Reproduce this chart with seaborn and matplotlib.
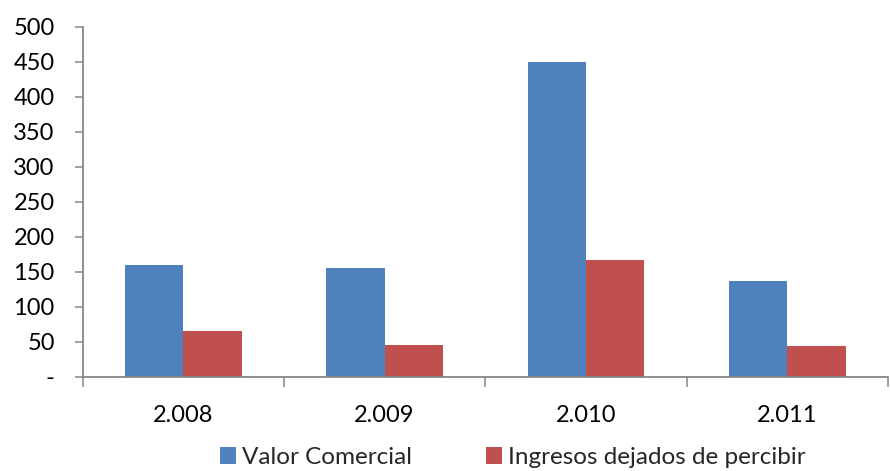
import matplotlib
matplotlib.use("Agg")
import matplotlib.pyplot as plt
from matplotlib.ticker import FixedLocator, FixedFormatter
import seaborn as sns
import pandas as pd

years = ["2.008", "2.009", "2.010", "2.011"]
valor_comercial = [160, 155, 450, 137]
ingresos_dejados = [65, 45, 167, 44]
series_names = ["Valor Comercial", "Ingresos dejados de percibir"]
y_ticks = [0, 50, 100, 150, 200, 250, 300, 350, 400, 450, 500]
y_labels = ["-"] + [str(v) for v in y_ticks[1:]]

df = pd.DataFrame({
    "year": years * 2,
    "value": valor_comercial + ingresos_dejados,
    "series": [series_names[0]] * len(years) + [series_names[1]] * len(years),
})

sns.set_theme(style="white")
plt.rcParams["font.family"] = ["Lato", "DejaVu Sans"]

fig = plt.figure(figsize=(8.9, 4.71), dpi=100)
ax = fig.add_axes([0.0927, 0.1996, 0.9051, 0.7431])

palette = {series_names[0]: "#4F81BD", series_names[1]: "#C0504D"}
sns.barplot(data=df, x="year", y="value", hue="series", order=years,
            hue_order=series_names, palette=palette, width=0.58, gap=0,
            saturation=1, edgecolor="none", linewidth=0, ax=ax, legend=False)

ax.set_xlim(-0.5, 3.5)
ax.set_ylim(0, 500)
ax.set_xlabel("")
ax.set_ylabel("")

axis_color = "#868686"
for side in ("top", "right"):
    ax.spines[side].set_visible(False)
for side in ("left", "bottom"):
    ax.spines[side].set_color(axis_color)
    ax.spines[side].set_linewidth(1.3)

ax.yaxis.set_major_locator(FixedLocator(y_ticks))
ax.yaxis.set_major_formatter(FixedFormatter(y_labels))
ax.tick_params(axis="y", which="major", direction="out", length=6, width=1.1,
               color=axis_color, labelsize=17, labelcolor="black", pad=14, left=True)

ax.set_xticks(range(len(years)))
ax.set_xticklabels(years)
ax.set_xticks([-0.5, 0.5, 1.5, 2.5, 3.5], minor=True)
ax.tick_params(axis="x", which="major", length=0, labelsize=17, labelcolor="black", pad=20)
ax.tick_params(axis="x", which="minor", direction="out", length=7, width=1.1,
               color=axis_color, bottom=True)

handles = [plt.Rectangle((0, 0), 1, 1, facecolor=palette[n], edgecolor="none") for n in series_names]
fig.legend(handles, series_names, loc="lower center", bbox_to_anchor=(0.576, -0.040),
           ncol=2, frameon=False, fontsize=17.5, handlelength=0.66, handleheight=0.66,
           handletextpad=0.25, columnspacing=3.05)

fig.savefig("out.png", dpi=100)
